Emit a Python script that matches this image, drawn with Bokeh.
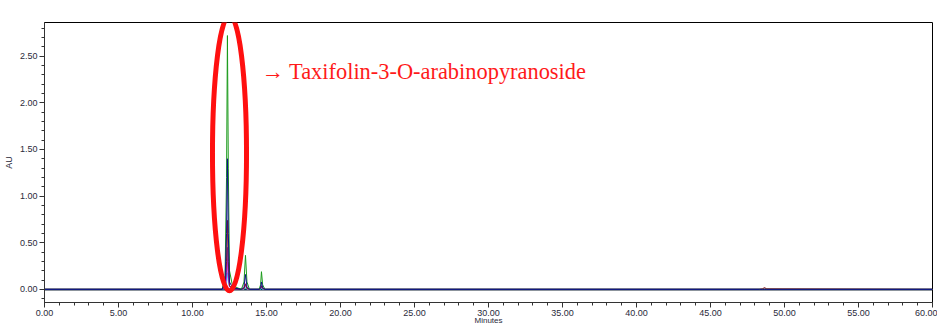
from bokeh.plotting import figure
from bokeh.models import Range1d, NumeralTickFormatter, FixedTicker, Label, Ellipse, ColumnDataSource
from bokeh.embed import file_html
from bokeh.resources import INLINE

# Retention time grid (minutes)
time_min = [0.0, 12.0, 12.2, 12.3, 12.36, 12.42, 12.5, 12.7, 13.3, 13.48, 13.58, 13.68, 13.85,
            14.5, 14.6, 14.66, 14.74, 14.9, 48.3, 48.5, 48.65, 48.8, 60.0]

# Absorbance (AU) per channel
green_au   = [0.0, 0.0, 0.15, 1.20, 2.72, 1.30, 0.20, 0.04, 0.0, 0.08, 0.365, 0.08, 0.0,
              0.0, 0.05, 0.19, 0.05, 0.0, 0.0, 0.0, 0.0, 0.0, 0.0]
navy_au    = [0.0, 0.0, 0.08, 0.60, 1.40, 0.60, 0.08, 0.02, 0.0, 0.03, 0.16, 0.03, 0.0,
              0.0, 0.02, 0.08, 0.02, 0.0, 0.0, 0.0, 0.0, 0.0, 0.0]
darkred_au = [0.0, 0.0, 0.04, 0.30, 0.74, 0.30, 0.04, 0.01, 0.0, 0.01, 0.06, 0.01, 0.0,
              0.0, 0.01, 0.04, 0.01, 0.0, 0.0, 0.005, 0.02, 0.005, 0.0]
purple_au  = [0.0, 0.0, 0.03, 0.18, 0.45, 0.18, 0.03, 0.01, 0.0, 0.01, 0.05, 0.01, 0.0,
              0.0, 0.01, 0.03, 0.01, 0.0, 0.0, 0.0, 0.0, 0.0, 0.0]
magenta_au = [0.0, 0.0, 0.02, 0.12, 0.33, 0.14, 0.03, 0.01, 0.0, 0.01, 0.06, 0.01, 0.0,
              0.0, 0.01, 0.03, 0.01, 0.0, 0.0, 0.0, 0.0, 0.0, 0.0]
cyan_au    = [0.0, 0.0, 0.01, 0.06, 0.18, 0.10, 0.03, 0.01, 0.0, 0.0, 0.02, 0.0, 0.0,
              0.0, 0.0, 0.01, 0.0, 0.0, 0.0, 0.0, 0.0, 0.0, 0.0]
baseline_au = [0.0] * len(time_min)

x_ticks = [0, 5, 10, 15, 20, 25, 30, 35, 40, 45, 50, 55, 60]
y_ticks = [0.0, 0.5, 1.0, 1.5, 2.0, 2.5]

src = ColumnDataSource(dict(t=time_min, g=green_au, n=navy_au, r=darkred_au, p=purple_au,
                            m=magenta_au, c=cyan_au, b=baseline_au))

p = figure(width=937, height=327, output_backend="svg", toolbar_location=None,
           x_range=Range1d(0, 60), y_range=Range1d(-0.14, 2.86),
           min_border_left=44, min_border_right=5, min_border_top=22, min_border_bottom=25)

p.grid.visible = False
p.outline_line_color = "black"
p.outline_line_width = 1
p.background_fill_color = "white"
p.border_fill_color = "white"

series = [("b", "#1b2a3a", 2.0), ("c", "#00e5ff", 1), ("m", "#ff00ff", 1), ("p", "#7b2fbe", 1),
          ("r", "#8b1a1a", 1), ("g", "#1a9a1a", 1), ("n", "#10108a", 1)]
for col, colr, w in series:
    p.line("t", col, source=src, line_color=colr, line_width=w)

# Axes
p.xaxis.ticker = FixedTicker(ticks=x_ticks, minor_ticks=list(range(0, 61)))
p.yaxis.ticker = FixedTicker(ticks=y_ticks, minor_ticks=[round(i * 0.1, 1) for i in range(-1, 29)])
p.xaxis.formatter = NumeralTickFormatter(format="0.00")
p.yaxis.formatter = NumeralTickFormatter(format="0.00")
for ax in (p.xaxis, p.yaxis):
    ax.major_label_text_font = "Liberation Sans"
    ax.major_label_text_font_size = "9px"
    ax.major_label_text_color = "#2a2a3a"
    ax.axis_line_color = "#333333"
    ax.major_tick_line_color = "#333333"
    ax.minor_tick_line_color = "#333333"
    ax.major_tick_in = 0
    ax.minor_tick_in = 0
    ax.axis_label_text_font = "Liberation Sans"
    ax.axis_label_text_font_size = "9px"
    ax.axis_label_text_font_style = "normal"
    ax.axis_label_text_color = "#2a2a3a"
p.xaxis.major_tick_out = 5
p.xaxis.minor_tick_out = 3
p.yaxis.major_tick_out = 5
p.yaxis.minor_tick_out = 3
p.xaxis.major_label_standoff = 2
p.yaxis.major_label_standoff = 2
p.yaxis.axis_label = "AU"
p.yaxis.axis_label_standoff = 3
p.xaxis.axis_label = "Minutes"
p.xaxis.axis_label_text_font_size = "8px"
p.xaxis.axis_label_standoff = -3

# Annotation: ellipse around main peak and label
ellipse_x, ellipse_y, ellipse_w, ellipse_h = 12.5, 1.46, 2.3, 2.95
p.add_glyph(Ellipse(x=ellipse_x, y=ellipse_y, width=ellipse_w, height=ellipse_h,
                    fill_alpha=0, line_color="#ff1010", line_width=5))
p.add_layout(Label(x=14.66, y=2.33, text="→ Taxifolin-3-O-arabinopyranoside",
                   text_font="Liberation Serif", text_font_size="22.4px", text_color="#ff1a1a",
                   text_baseline="alphabetic"))

open("out.html", "w").write(file_html(p, INLINE))
